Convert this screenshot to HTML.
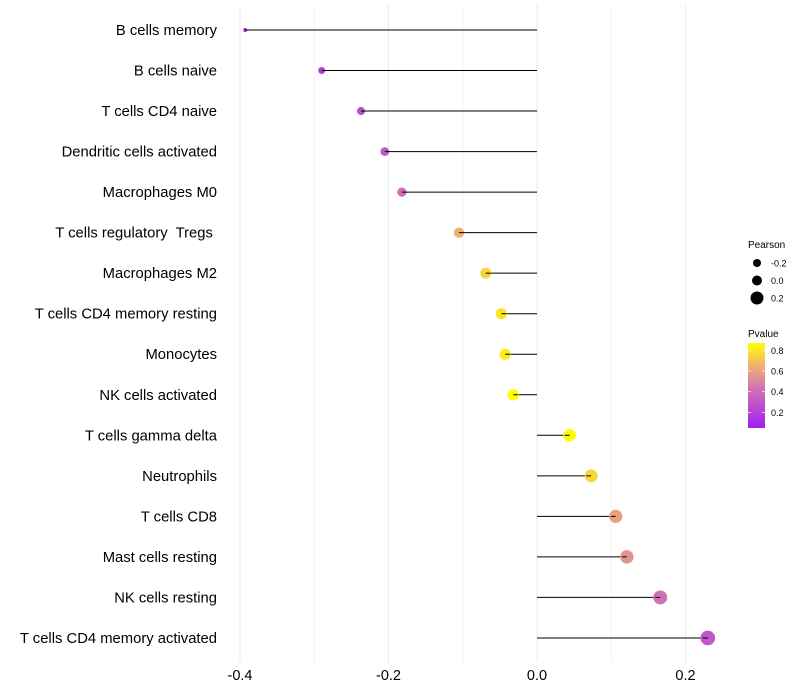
<!DOCTYPE html>
<html><head><meta charset="utf-8"><style>
body{margin:0;background:#fff;}
svg{display:block;font-family:"Liberation Sans",Arial,sans-serif;}
text{white-space:pre;}
</style></head><body>
<svg id="chart" width="800" height="700"></svg>
<script>
const categories=["B cells memory","B cells naive","T cells CD4 naive","Dendritic cells activated","Macrophages M0","T cells regulatory  Tregs ","Macrophages M2","T cells CD4 memory resting","Monocytes","NK cells activated","T cells gamma delta","Neutrophils","T cells CD8","Mast cells resting","NK cells resting","T cells CD4 memory activated"];
const pearson=[-0.393,-0.29,-0.237,-0.205,-0.182,-0.105,-0.069,-0.048,-0.043,-0.032,0.044,0.073,0.106,0.121,0.166,0.230];
const pvalue=[0.1,0.2,0.25,0.3,0.4,0.65,0.75,0.8,0.82,0.87,0.86,0.76,0.6,0.55,0.42,0.3];
const xTicks=[-0.4,-0.2,0.0,0.2];
const xTickLabels=["-0.4","-0.2","0.0","0.2"];
const sizeLegend=[-0.2,0.0,0.2];
const pTicks=[0.2,0.4,0.6,0.8];

const NS="http://www.w3.org/2000/svg";
const svg=document.getElementById('chart');
function mk(t,a,p){const e=document.createElementNS(NS,t);for(const k in a)e.setAttribute(k,a[k]);(p||svg).appendChild(e);return e;}
const x=v=>537+v*742.5;
const y=i=>30+i*40.53;
const r=v=>Math.sqrt(Math.max(0,4+80*(v+0.393)));
function col(p){
 const stops=[[0.05,[160,32,240]],[0.45,[212,120,176]],[0.65,[240,176,112]],[0.87,[255,255,0]]];
 if(p<=stops[0][0])return 'rgb('+stops[0][1]+')';
 for(let i=1;i<stops.length;i++){if(p<=stops[i][0]){const t=(p-stops[i-1][0])/(stops[i][0]-stops[i-1][0]);const c=stops[i-1][1].map((a,j)=>Math.round(a+(stops[i][1][j]-a)*t));return 'rgb('+c+')';}}
 return 'rgb(255,255,0)';
}
for(let k=-4;k<=2;k++){
 const v=k/10;
 const g=mk('line',{x1:x(v),x2:x(v),y1:5,y2:662,stroke:k%2===0?'#ebebeb':'#f3f3f3','stroke-width':1});
 
 
}
xTicks.forEach((v,i)=>{
 const t=mk('text',{x:x(v),y:680,'text-anchor':'middle','font-size':14.5,fill:'#000'});
 t.textContent=xTickLabels[i];
 
 
});
categories.forEach((c,i)=>{
 const t=mk('text',{x:217,y:y(i)+5,'text-anchor':'end','font-size':14.8,fill:'#000'});
 t.textContent=c;
 
 
 const l=mk('line',{x1:x(0),x2:x(pearson[i]),y1:y(i),y2:y(i),stroke:'#000','stroke-width':1});
 
 
 const d=mk('circle',{cx:x(pearson[i]),cy:y(i),r:r(pearson[i]),fill:col(pvalue[i])});
 
 
 const l2=mk('line',{x1:x(pearson[i])-(pearson[i]>0?5:0),x2:x(pearson[i])+(pearson[i]<0?5:0),y1:y(i),y2:y(i),stroke:'#000','stroke-width':1});
 
 
});
const lt=mk('text',{x:748,y:248,'font-size':10});lt.textContent='Pearson';


const lr=[4,5,6.5];
sizeLegend.forEach((v,i)=>{
 const cy=263+i*17.5;
 const c=mk('circle',{cx:757,cy:cy,r:lr[i],fill:'#000'});
 
 
 const t=mk('text',{x:771,y:cy+3.5,'font-size':9});t.textContent=v.toFixed(1);
 
 
});
const pt=mk('text',{x:748,y:337,'font-size':10});pt.textContent='Pvalue';


const defs=mk('defs',{});
const lg=mk('linearGradient',{id:'pg',x1:0,y1:1,x2:0,y2:0},defs);
[[0,'rgb(160,32,240)'],[0.49,'rgb(212,120,176)'],[0.73,'rgb(240,176,112)'],[1,'rgb(255,255,0)']].forEach(s=>mk('stop',{offset:s[0],'stop-color':s[1]},lg));
const bar=mk('rect',{x:748,y:343,width:17,height:85,fill:'url(#pg)'});


const py=p=>428-(p-0.05)*103.6;
pTicks.forEach(p=>{
 mk('line',{x1:748,x2:751,y1:py(p),y2:py(p),stroke:'#fff','stroke-width':0.7});
 mk('line',{x1:762,x2:765,y1:py(p),y2:py(p),stroke:'#fff','stroke-width':0.7});
 const t=mk('text',{x:771,y:py(p)+3.5,'font-size':9});t.textContent=p.toFixed(1);
 
 
});
</script>
</body></html>
